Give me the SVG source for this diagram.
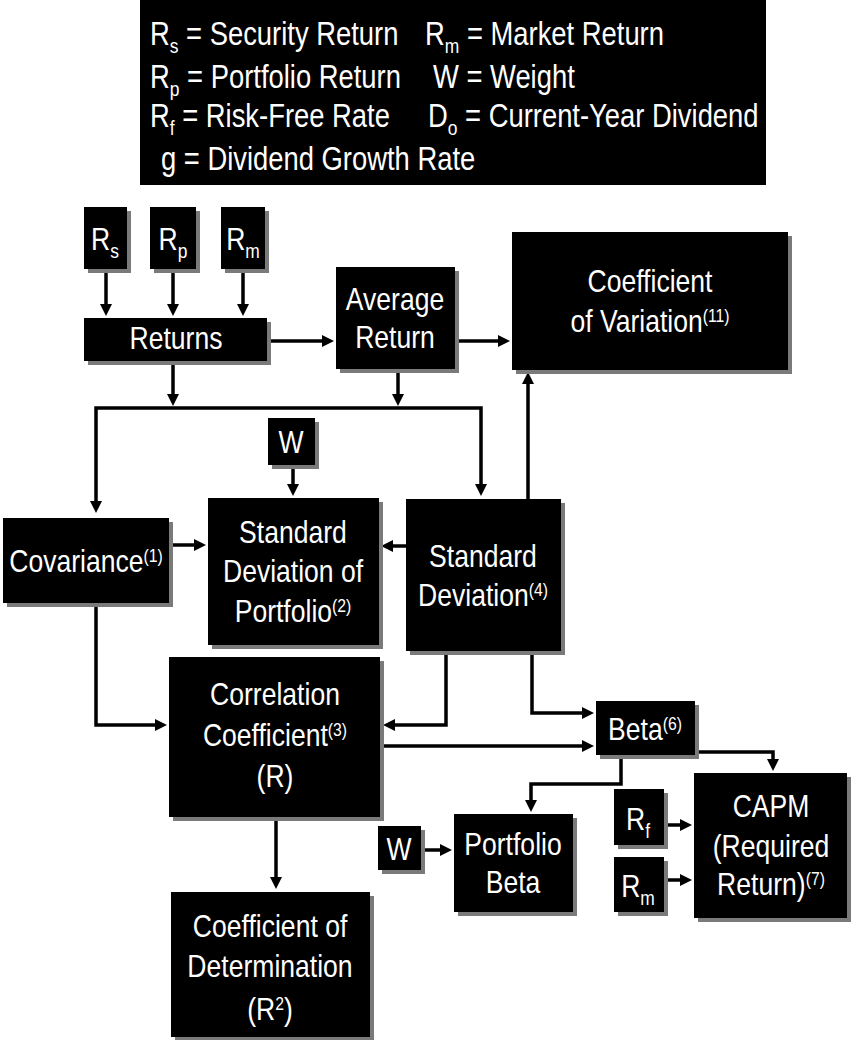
<svg xmlns="http://www.w3.org/2000/svg" width="851" height="1040" viewBox="0 0 851 1040">
  <style>
    text { font-family: 'Liberation Sans Narrow', 'Arial Narrow', 'Liberation Sans', Arial, sans-serif; fill: #fff; font-size: 32px; text-anchor: middle;
           transform-box: fill-box; transform-origin: 50% 50%; transform: scaleX(0.83); }
    .legend text { font-size: 33px; text-anchor: start; transform-origin: 0% 50%; }
    .box { fill: #000; filter: url(#shadow); }
    .sup { font-size: 19px; }
    .sub { font-size: 21px; }
    .conn path { fill: none; stroke: #000; stroke-width: 3.5; stroke-linejoin: miter; }
  </style>
  <defs>
    <filter id="shadow" x="-10%" y="-10%" width="130%" height="130%">
      <feDropShadow dx="4" dy="4" stdDeviation="0.7" flood-color="#7a7a7a" flood-opacity="1"/>
    </filter>
    <marker id="ah" markerUnits="userSpaceOnUse" markerWidth="12" markerHeight="12" viewBox="0 0 12 12" refX="3" refY="6" orient="auto">
      <path d="M0,0 L12,6 L0,12 z" fill="#000"/>
    </marker>
    <marker id="ahs" markerUnits="userSpaceOnUse" markerWidth="12" markerHeight="12" viewBox="0 0 12 12" refX="3" refY="6" orient="auto-start-reverse">
      <path d="M0,0 L12,6 L0,12 z" fill="#000"/>
    </marker>
  </defs>

  <!-- symbol key -->
  <g id="legend" class="legend">
    <rect x="140" y="0" width="626" height="185" fill="#000"/>
    <text x="150" y="45">R<tspan class="sub" dy="8">s</tspan><tspan dy="-8"> = Security Return</tspan></text>
    <text x="425" y="45">R<tspan class="sub" dy="8">m</tspan><tspan dy="-8"> = Market Return</tspan></text>
    <text x="150" y="88">R<tspan class="sub" dy="8">p</tspan><tspan dy="-8"> = Portfolio Return</tspan></text>
    <text x="433" y="88">W = Weight</text>
    <text x="150" y="127">R<tspan class="sub" dy="8">f</tspan><tspan dy="-8"> = Risk-Free Rate</tspan></text>
    <text x="428" y="127">D<tspan class="sub" dy="8">o</tspan><tspan dy="-8"> = Current-Year Dividend</tspan></text>
    <text x="161" y="170">g = Dividend Growth Rate</text>
  </g>

  <!-- connectors -->
  <g id="connectors" class="conn">
    <path d="M106,269 V307" marker-end="url(#ah)"/>
    <path d="M173,269 V307" marker-end="url(#ah)"/>
    <path d="M243,269 V307" marker-end="url(#ah)"/>
    <path d="M267,341 H325" marker-end="url(#ah)"/>
    <path d="M455,341 H501" marker-end="url(#ah)"/>
    <path d="M173,361 V397" marker-end="url(#ah)"/>
    <path d="M398,373 V397" marker-end="url(#ah)"/>
    <path d="M96,504 V408 H481 V487" marker-start="url(#ahs)" marker-end="url(#ah)"/>
    <path d="M293,465 V487" marker-end="url(#ah)"/>
    <path d="M169,545 H197" marker-end="url(#ah)"/>
    <path d="M406,546 H390" marker-end="url(#ah)"/>
    <path d="M528,499 V381" marker-end="url(#ah)"/>
    <path d="M96,603 V725 H158" marker-end="url(#ah)"/>
    <path d="M446,651 V725 H392" marker-end="url(#ah)"/>
    <path d="M532,651 V713 H585" marker-end="url(#ah)"/>
    <path d="M380,746 H585" marker-end="url(#ah)"/>
    <path d="M276,817 V880" marker-end="url(#ah)"/>
    <path d="M621,755 V784 H531 V803" marker-end="url(#ah)"/>
    <path d="M695,752 H773 V762" marker-end="url(#ah)"/>
    <path d="M421,850 H443" marker-end="url(#ah)"/>
    <path d="M664,825 H683" marker-end="url(#ah)"/>
    <path d="M664,880 H683" marker-end="url(#ah)"/>
  </g>

  <g id="rs">
    <rect class="box" x="84" y="207" width="43" height="62"/>
    <text x="105" y="250">R<tspan class="sub" dy="8">s</tspan></text>
  </g>
  <g id="rp">
    <rect class="box" x="150" y="207" width="46" height="62"/>
    <text x="173" y="250">R<tspan class="sub" dy="8">p</tspan></text>
  </g>
  <g id="rm">
    <rect class="box" x="221" y="207" width="44" height="62"/>
    <text x="243" y="250">R<tspan class="sub" dy="8">m</tspan></text>
  </g>
  <g id="returns">
    <rect class="box" x="84" y="318" width="183" height="43"/>
    <text x="176" y="349">Returns</text>
  </g>
  <g id="average-return">
    <rect class="box" x="336" y="267" width="119" height="102"/>
    <text x="395" y="310">Average</text>
    <text x="395" y="348">Return</text>
  </g>
  <g id="coefficient-of-variation">
    <rect class="box" x="512" y="232" width="276" height="138"/>
    <text x="650" y="292">Coefficient</text>
    <text x="650" y="332">of Variation<tspan class="sup" dy="-10">(11)</tspan></text>
  </g>
  <g id="weight-1">
    <rect class="box" x="268" y="418" width="47" height="47"/>
    <text x="291" y="453">W</text>
  </g>
  <g id="covariance">
    <rect class="box" x="3" y="518" width="166" height="85"/>
    <text x="86" y="572">Covariance<tspan class="sup" dy="-10">(1)</tspan></text>
  </g>
  <g id="sd-portfolio">
    <rect class="box" x="208" y="498" width="171" height="147"/>
    <text x="293" y="543">Standard</text>
    <text x="293" y="582">Deviation of</text>
    <text x="293" y="622">Portfolio<tspan class="sup" dy="-10">(2)</tspan></text>
  </g>
  <g id="standard-deviation">
    <rect class="box" x="406" y="499" width="155" height="152"/>
    <text x="483" y="567">Standard</text>
    <text x="483" y="606">Deviation<tspan class="sup" dy="-10">(4)</tspan></text>
  </g>
  <g id="correlation">
    <rect class="box" x="169" y="657" width="211" height="160"/>
    <text x="275" y="705">Correlation</text>
    <text x="275" y="746">Coefficient<tspan class="sup" dy="-10">(3)</tspan></text>
    <text x="275" y="787">(R)</text>
  </g>
  <g id="determination">
    <rect class="box" x="171" y="892" width="199" height="145"/>
    <text x="270" y="937">Coefficient of</text>
    <text x="270" y="977">Determination</text>
    <text x="270" y="1020">(R<tspan class="sup" dy="-10">2</tspan><tspan dy="10">)</tspan></text>
  </g>
  <g id="beta">
    <rect class="box" x="596" y="701" width="99" height="54"/>
    <text x="645" y="740">Beta<tspan class="sup" dy="-10">(6)</tspan></text>
  </g>
  <g id="weight-2">
    <rect class="box" x="378" y="826" width="43" height="44"/>
    <text x="399" y="860">W</text>
  </g>
  <g id="portfolio-beta">
    <rect class="box" x="454" y="814" width="119" height="98"/>
    <text x="513" y="855">Portfolio</text>
    <text x="513" y="893">Beta</text>
  </g>
  <g id="rf">
    <rect class="box" x="614" y="789" width="50" height="56"/>
    <text x="638" y="830">R<tspan class="sub" dy="8">f</tspan></text>
  </g>
  <g id="rm-capm">
    <rect class="box" x="614" y="857" width="50" height="55"/>
    <text x="638" y="897">R<tspan class="sub" dy="8">m</tspan></text>
  </g>
  <g id="capm">
    <rect class="box" x="694" y="773" width="153" height="145"/>
    <text x="771" y="817">CAPM</text>
    <text x="771" y="857">(Required</text>
    <text x="771" y="895">Return)<tspan class="sup" dy="-10">(7)</tspan></text>
  </g>
</svg>
